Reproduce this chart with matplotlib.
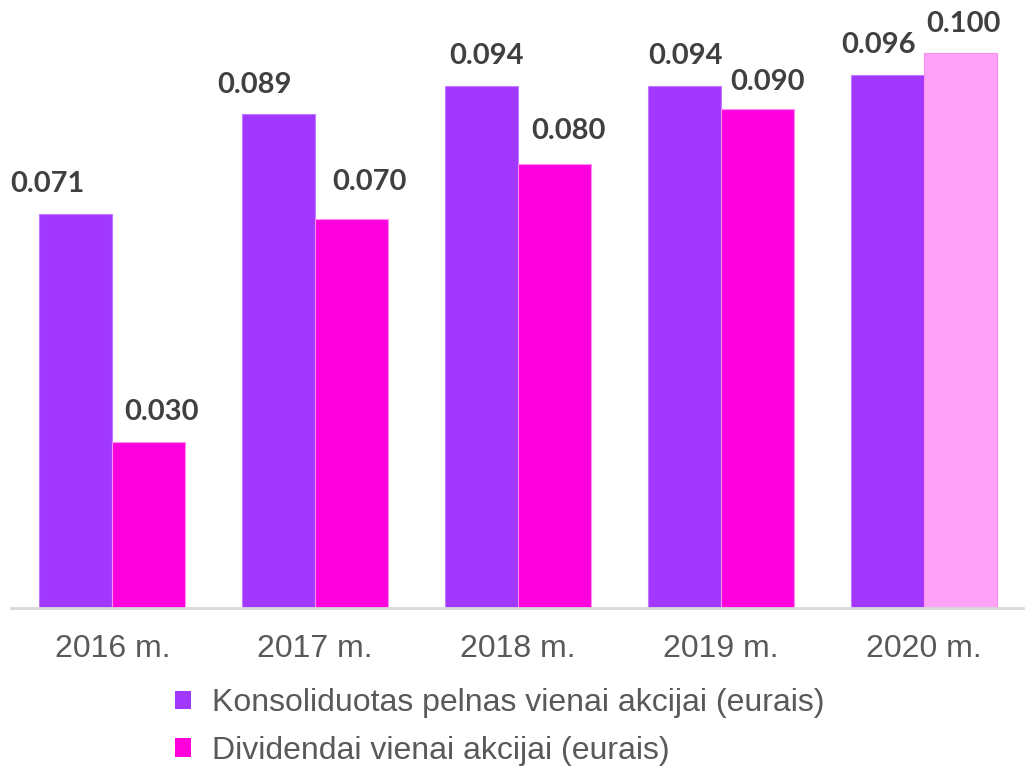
import matplotlib
matplotlib.use("Agg")
import matplotlib.pyplot as plt
from matplotlib.patches import Patch

years = ["2016 m.", "2017 m.", "2018 m.", "2019 m.", "2020 m."]
eps = [0.071, 0.089, 0.094, 0.094, 0.096]
dividends = [0.030, 0.070, 0.080, 0.090, 0.100]
series_names = ["Konsoliduotas pelnas vienai akcijai (eurais)",
                "Dividendai vienai akcijai (eurais)"]

c_purple = "#A238FF"
c_magenta = "#FF00DD"
c_light = "#FFA3F8"
div_colors = [c_magenta, c_magenta, c_magenta, c_magenta, c_light]

# label offsets (pixels): x shift and gap above bar
eps_dx = [-28, -24, 5, 1, -9]
div_dx = [13, 18, 14, 10, 3]
eps_dy = [17, 16, 17, 17, 17]
div_dy = [17, 25, 20, 14, 16]

fig = plt.figure(figsize=(10.25, 7.69), dpi=100)
ax = fig.add_axes([11/1025, 1 - 608/769, 1014/1025, 608/769])

x = list(range(len(years)))
w = 0.36
ax.bar([i - w/2 for i in x], eps, width=w, color=c_purple,
       edgecolor="#C07AFF", linewidth=0.8)
ax.bar([i + w/2 for i in x], dividends, width=w, color=div_colors,
       edgecolor="#FF8CF0", linewidth=0.8)

ax.set_xlim(-0.5, 4.5)
ax.set_ylim(0, 608/5550)

lab_kw = dict(fontsize=21, fontweight="bold", color="#404040",
              family=["Lato", "DejaVu Sans"], ha="center", va="bottom",
              textcoords="offset pixels")
for i, v in enumerate(eps):
    ax.annotate(f"{v:.3f}", (i - w/2, v), xytext=(eps_dx[i], eps_dy[i]), **lab_kw)
for i, v in enumerate(dividends):
    ax.annotate(f"{v:.3f}", (i + w/2, v), xytext=(div_dx[i], div_dy[i]), **lab_kw)

for s in ["top", "right", "left"]:
    ax.spines[s].set_visible(False)
ax.spines["bottom"].set_color("#D9D9D9")
ax.spines["bottom"].set_linewidth(2)
ax.set_yticks([])
ax.set_xticks(x)
ax.set_xticklabels(years, fontsize=23, color="#595959",
                   family=["Liberation Sans", "DejaVu Sans"])
ax.tick_params(axis="x", length=0, pad=19)

handles = [Patch(facecolor=c_purple, edgecolor="none"),
           Patch(facecolor=c_magenta, edgecolor="none")]
leg = fig.legend(handles, series_names, loc="upper left",
                 bbox_to_anchor=(175/1025, 1 - 688/769),
                 frameon=False, borderpad=0, borderaxespad=0,
                 handlelength=0.5, handleheight=0.5,
                 handletextpad=0.65, labelspacing=0.56,
                 prop={"family": ["Liberation Sans", "DejaVu Sans"], "size": 23})
for t in leg.get_texts():
    t.set_color("#595959")

fig.savefig("out.png", dpi=100)
